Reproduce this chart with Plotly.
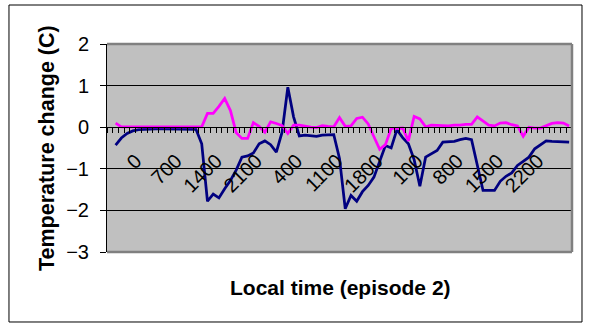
import plotly.graph_objects as go

# Hourly categories (HHMM), 81 slots; series start at the second slot
n_categories = 81
hours = [(j % 24) * 100 for j in range(n_categories)]
label_step = 7
label_positions = list(range(0, 71, label_step))
label_text = [str(hours[j]) for j in label_positions]

# Temperature change (C), one value per hour from slot 1 to slot 80
series_navy = [
    -0.43, -0.26, -0.15, -0.09, -0.06, -0.05, -0.04, -0.04, -0.04, -0.04,
    -0.04, -0.04, -0.04, -0.04, -0.05, -0.40, -1.78, -1.61, -1.70, -1.48,
    -1.28, -1.03, -0.72, -0.69, -0.62, -0.40, -0.33, -0.42, -0.60, -0.12,
    0.96, 0.25, -0.21, -0.19, -0.20, -0.22, -0.19, -0.19, -0.18, -0.75,
    -1.96, -1.64, -1.78, -1.55, -1.40, -1.20, -0.82, -0.44, -0.50, -0.06,
    -0.25, -0.40, -0.78, -1.42, -0.72, -0.63, -0.56, -0.36, -0.35, -0.34,
    -0.30, -0.27, -0.30, -0.95, -1.52, -1.52, -1.52, -1.30, -1.18, -1.10,
    -0.92, -0.82, -0.72, -0.52, -0.42, -0.33, -0.34, -0.35, -0.35, -0.36,
]
series_magenta = [
    0.10, 0.01, 0.01, 0.01, 0.01, 0.01, 0.01, 0.01, 0.01, 0.01,
    0.01, 0.01, 0.01, 0.01, 0.01, 0.01, 0.33, 0.33, 0.50, 0.69,
    0.40, -0.13, -0.27, -0.27, 0.11, 0.02, -0.12, 0.13, 0.09, 0.04,
    -0.15, 0.05, 0.05, 0.02, 0.00, -0.01, 0.04, 0.02, 0.01, 0.23,
    0.02, 0.03, 0.21, 0.24, 0.08, -0.23, -0.53, -0.42, -0.03, -0.03,
    -0.02, -0.33, 0.26, 0.20, 0.01, 0.05, 0.04, 0.03, 0.03, 0.05,
    0.05, 0.07, 0.07, 0.25, 0.15, 0.05, 0.03, 0.10, 0.11, 0.06,
    0.03, -0.22, 0.00, -0.02, -0.02, 0.03, 0.09, 0.11, 0.10, 0.03,
]
x_slots = list(range(1, 1 + len(series_navy)))

font_family = "Liberation Sans, Arial, sans-serif"

fig = go.Figure()
fig.add_trace(go.Scatter(x=x_slots, y=series_navy, mode="lines",
                         line=dict(color="#000080", width=2.75)))
fig.add_trace(go.Scatter(x=x_slots, y=series_magenta, mode="lines",
                         line=dict(color="#FF00FF", width=2.75)))

fig.update_layout(
    width=589, height=329,
    margin=dict(l=107, r=17, t=44, b=77),
    paper_bgcolor="white",
    plot_bgcolor="#C0C0C0",
    showlegend=False,
    font=dict(family=font_family, size=20, color="black"),
    xaxis=dict(
        range=[-0.5, n_categories - 0.5],
        anchor="free", position=0.6,          # category axis crosses at y = 0
        showline=True, linecolor="black", linewidth=1,
        showgrid=False, zeroline=False,
        tickmode="array", tickvals=label_positions, ticktext=label_text,
        ticks="", tickangle=-45,
        tickfont=dict(family=font_family, size=20),
        ticklabelshift=26, ticklabelstandoff=13,
        minor=dict(tickmode="array",
                   tickvals=[j - 0.5 for j in range(n_categories + 1)],
                   ticks="outside", ticklen=5, tickwidth=1,
                   tickcolor="black", showgrid=False),
    ),
    yaxis=dict(
        range=[-3, 2], tickmode="linear", tick0=-3, dtick=1,
        showgrid=True, gridcolor="black", gridwidth=1,
        zeroline=False,
        showline=True, linecolor="black", linewidth=1,
        ticks="outside", ticklen=6, tickcolor="black",
        tickfont=dict(family=font_family, size=20),
        ticklabelstandoff=7,
    ),
)

# Plot-area frame (top, right, bottom) and outer chart border
frame = dict(color="#808080", width=2.5)
fig.add_shape(type="line", xref="paper", yref="paper", x0=0, x1=1, y0=1, y1=1, line=frame)
fig.add_shape(type="line", xref="paper", yref="paper", x0=1, x1=1, y0=0, y1=1, line=frame)
fig.add_shape(type="line", xref="paper", yref="paper", x0=0, x1=1, y0=0, y1=0, line=frame)
fig.add_shape(type="rect", xref="paper", yref="paper",
              x0=-0.2108, x1=1.0215, y0=-0.3365, y1=1.1875,
              line=dict(color="black", width=1))

fig.add_annotation(text="<b>Temperature change (C)</b>", xref="paper", yref="paper",
                   x=-0.129, y=0.5, xanchor="center", yanchor="middle",
                   textangle=-90, showarrow=False,
                   font=dict(family=font_family, size=21.5))
fig.add_annotation(text="<b>Local time (episode 2)</b>", xref="paper", yref="paper",
                   x=0.503, y=-0.173, xanchor="center", yanchor="middle",
                   showarrow=False,
                   font=dict(family=font_family, size=21))

fig.write_html("out.html")
